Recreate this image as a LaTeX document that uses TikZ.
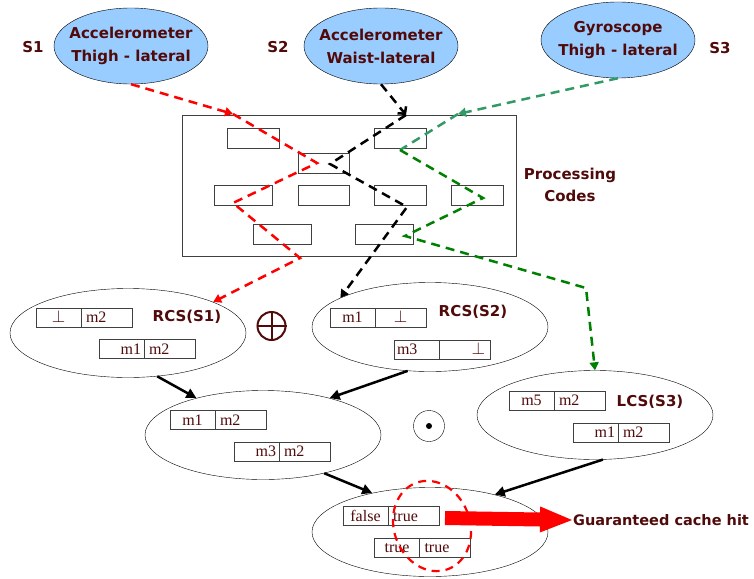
\documentclass[tikz,border=0pt]{standalone}
\usepackage{fontspec}
\setmainfont{Liberation Serif}
\newfontfamily\comicfont{DejaVu Sans}
\usetikzlibrary{shapes.geometric, arrows.meta, positioning}
\definecolor{labelred}{RGB}{80,10,10}
\definecolor{skyfill}{RGB}{153,204,255}
\definecolor{seagreen}{RGB}{51,153,102}
\definecolor{flowgreen}{RGB}{0,128,0}

\begin{document}
\begin{tikzpicture}[x=1pt, y=-1pt,
        sensor/.style={ellipse, draw, fill=skyfill, minimum width=154pt, minimum height=76pt, inner xsep=-13pt, inner ysep=0pt, align=center, text=labelred, font=\comicfont\bfseries\fontsize{15}{23}\selectfont},
        tag/.style={text=labelred, align=center, font=\comicfont\bfseries\fontsize{15}{22}\selectfont},
        code/.style={rectangle, draw=black!75, minimum width=52pt, minimum height=20pt},
        cache/.style={ellipse, draw, minimum width=236pt, minimum height=89pt},
        cell/.style={rectangle, draw=black!75, outer sep=0pt, minimum height=19pt, inner ysep=0pt, text height=11pt, text depth=1pt, text=labelred, font=\fontsize{16}{16}\selectfont},
        lcell/.style={cell, text width=39pt, inner xsep=3pt, align=center},
        rcell/.style={cell, text width=41pt, inner xsep=5pt, align=left},
        flow/.style={line width=2.5pt, dash pattern=on 9pt off 6pt},
        filltip/.style={-{Triangle[length=8pt,width=9pt]}},
        arrow/.style={line width=2.5pt, -{Triangle[length=10pt,width=10pt]}}
    ]
        \useasboundingbox (0,0) rectangle (754,578);

        % Sensors
        \node[sensor] (s1) at (131,46) {Accelerometer\\Thigh - lateral};
        \node[sensor] (s2) at (381,46) {Accelerometer\\Waist-lateral};
        \node[sensor] (s3) at (618,40) {Gyroscope\\Thigh - lateral};
        \node[tag] (s1tag) at (33,47) {S1};
        \node[tag] (s2tag) at (278,47) {S2};
        \node[tag] (s3tag) at (720,48) {S3};

        % Processing codes
        \node[rectangle, draw=black!75, minimum width=334pt, minimum height=141pt] (proc) at (349,185.5) {};
        \node[tag] (proctag) at (570,185) {Processing\\Codes};
        \node[code] (c1) at (253,138) {};
        \node[code] (c2) at (400,138) {};
        \node[code, minimum width=51pt] (c3) at (323.5,163.5) {};
        \node[code, minimum width=58pt] (c4) at (243,195.5) {};
        \node[code, minimum width=51pt] (c5) at (323.5,195.5) {};
        \node[code] (c6) at (400,195.5) {};
        \node[code] (c7) at (477,195.5) {};
        \node[code, minimum width=58pt] (c8) at (282,234) {};
        \node[code, minimum width=58pt] (c9) at (384,234) {};

        % Cache states
        \node[cache] (rcs1) at (128,333) {};
        \node[cache] (rcs2) at (430,327) {};
        \node[cache] (lcs3) at (595,415) {};
        \node[cache] (merged) at (263,435) {};
        \node[cache] (hit) at (430,532) {};
        \node[tag] (rcs1tag) at (187,317) {RCS(S1)};
        \node[tag] (rcs2tag) at (473,312) {RCS(S2)};
        \node[tag] (lcs3tag) at (650,402) {LCS(S3)};

        \node[lcell] (r1a) at (58.5,317.5) {$\perp$};
        \node[rcell, right=0pt of r1a] (r1b) {m2};
        \node[lcell, align=right] (r1c) at (121.5,349) {m1};
        \node[rcell, right=0pt of r1c] (r1d) {m2};

        \node[lcell] (r2a) at (352.5,317.5) {m1};
        \node[rcell, align=center] (r2b) [right=0pt of r2a] {$\perp$};
        \node[lcell, align=left] (r2c) at (416.5,349.5) {m3};
        \node[rcell, align=right] (r2d) [right=0pt of r2c] {$\perp$};

        \node[lcell] (l3a) at (531.5,400.5) {m5};
        \node[rcell, right=0pt of l3a] (l3b) {m2};
        \node[lcell, align=right] (l3c) at (595.5,432.5) {m1};
        \node[rcell, right=0pt of l3c] (l3d) {m2};

        \node[lcell] (m1a) at (192.5,420) {m1};
        \node[rcell, right=0pt of m1a] (m1b) {m2};
        \node[lcell, align=right] (m1c) at (256.5,451.5) {m3};
        \node[rcell, right=0pt of m1c] (m1d) {m2};

        \node[lcell] (h1a) at (365.5,516) {false};
        \node[rcell, right=0pt of h1a] (h1b) {true};
        \node[lcell] (h1c) at (397,547.5) {true};
        \node[rcell, right=0pt of h1c] (h1d) {true};

        % Operators
        \node[circle, draw=labelred, line width=2pt, minimum size=28pt] (oplus) at (271.5,326) {};
        \draw[labelred, line width=2pt] (oplus.north) -- (oplus.south) (oplus.west) -- (oplus.east);
        \node[circle, draw, minimum size=31pt] (odot) at (429,426) {};
        \fill (odot.center) circle (3pt);

        % Sensor flows
        \coordinate (ra) at (233,114);
        \coordinate (rb) at (317,163);
        \coordinate (rc) at (233,203);
        \coordinate (rd) at (300,258);
        \draw[red, flow, filltip] (s1.south) -- (ra);
        \draw[red, flow, filltip] (ra) -- (rb) -- (rc) -- (rd) -- (rcs1.20);

        \coordinate (ka) at (406,115);
        \coordinate (kb) at (330,164);
        \coordinate (kc) at (407,207);
        \draw[black, flow, -{Straight Barb[length=5pt,width=11pt]}] (s2.south) -- (ka);
        \draw[black, flow, filltip] (ka) -- (kb) -- (kc) -- (rcs2.162);

        \coordinate (ga) at (458,114);
        \coordinate (gb) at (400,150);
        \coordinate (gc) at (483,198);
        \coordinate (gd) at (405,236);
        \coordinate (ge) at (586,288);
        \draw[seagreen, flow, filltip] (s3.south) -- (ga);
        \draw[seagreen, flow] (ga) -- (gb);
        \draw[flowgreen, flow, filltip] (gb) -- (gc) -- (gd) -- (ge) -- (lcs3.north);

        % Merging
        \draw[arrow] (rcs1.-56) -- (merged.151);
        \draw[arrow] (rcs2.-117) -- (merged.29);
        \draw[arrow] (merged.-32) -- (hit.146);
        \draw[arrow] (lcs3.-80) -- (hit.30);

        % Cache hit
        \node[ellipse, draw=red, flow, line width=2.2pt, dash pattern=on 8pt off 6pt, minimum width=76pt, minimum height=92pt, rotate=20] (hitmark) at (432,526) {};
        \coordinate (hitstart) at (445,518);
        \node[tag, anchor=west, inner sep=1pt, font=\comicfont\bfseries\fontsize{14.5}{18}\selectfont] (hittag) at (572,520) {Guaranteed cache hit};
        \draw[red, line width=14pt, -{Triangle[length=32pt,width=26pt,line width=0pt]}] (hitstart) -- (hittag.west);

    \end{tikzpicture}
\end{document}
